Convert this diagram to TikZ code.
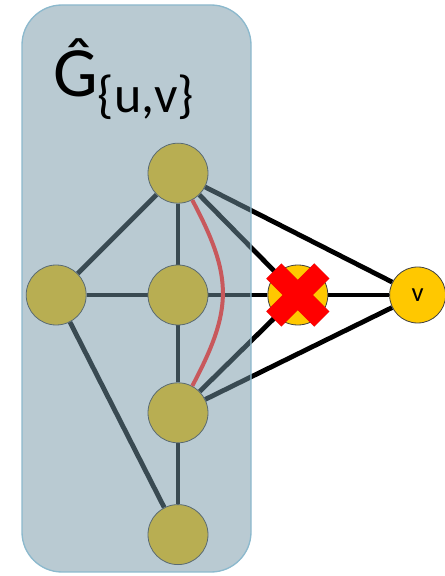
\documentclass[tikz,border=0pt]{standalone}
\usepackage{fontspec}
\setmainfont{Carlito}
\usetikzlibrary{positioning, backgrounds}
\definecolor{nodeyellow}{RGB}{255, 200, 0}
\definecolor{boxslate}{RGB}{115, 149, 165}
\definecolor{boxrim}{RGB}{140, 185, 205}
\definecolor{pathred}{RGB}{200, 88, 92}
\definecolor{crossred}{RGB}{255, 0, 0}

\begin{document}
\begin{tikzpicture}[
  x=0.75pt, y=0.75pt,
  vertex/.style={
    circle, draw=black!75, line width=0.6pt,
    fill=nodeyellow, minimum size=45pt, inner sep=0pt
  },
  link/.style={line width=3.6pt, black},
  redpath/.style={line width=3pt, pathred},
  crossbar/.style={line width=16pt, crossred, line cap=butt}
]

\useasboundingbox (0,0) rectangle (444,576);

% vertices
\node[vertex] (mid) at (178,281) {};
\node[vertex, above=45.75pt of mid] (top) {};
\node[vertex, below=42.75pt of mid] (lower) {};
\node[vertex, below=45.75pt of lower] (bottom) {};
\node[vertex, left=45.75pt of mid] (left) {};
\node[vertex, right=44.25pt of mid] (u) {};
\node[vertex, minimum size=42pt, right=45.75pt of u,
      font=\fontsize{20}{20}\selectfont] (v) {v};

% edges
\begin{scope}[on background layer]
  \draw[link] (top) -- (left);
  \draw[link] (top) -- (mid);
  \draw[link] (left) -- (mid);
  \draw[link] (mid) -- (lower);
  \draw[link] (left) -- (bottom);
  \draw[link] (lower) -- (bottom);
  \draw[link] (mid) -- (u);
  \draw[link] (top) -- (u);
  \draw[link] (lower) -- (u);
  \draw[link] (top) -- (v);
  \draw[link] (lower) -- (v);
  \draw[link] (u) -- (v);
\end{scope}

% translucent subgraph box
\draw[rounded corners=30, draw=boxrim, line width=1pt,
      fill=boxslate, fill opacity=0.5] (22,4) rectangle (251,571);

\node[anchor=base west, inner sep=0pt, font=\fontsize{53}{53}\selectfont]
  (ghat) at (53,479) {Ĝ\raisebox{-12pt}{\fontsize{39}{39}\selectfont\{u,v\}}};

% red path from top to lower
\draw[redpath] (top.-62) to[out=-62, in=62, looseness=1.2] (lower.62);

% cross on u
\begin{scope}[shift={(2,-3)}]
  \draw[crossbar, black, opacity=0.25] ([shift={(-24,-24)}]u.center) -- ([shift={(24,24)}]u.center);
  \draw[crossbar, black, opacity=0.25] ([shift={(-24,24)}]u.center) -- ([shift={(24,-24)}]u.center);
\end{scope}
\draw[crossbar] ([shift={(-24,-24)}]u.center) -- ([shift={(24,24)}]u.center);
\draw[crossbar] ([shift={(-24,24)}]u.center) -- ([shift={(24,-24)}]u.center);

\end{tikzpicture}
\end{document}
